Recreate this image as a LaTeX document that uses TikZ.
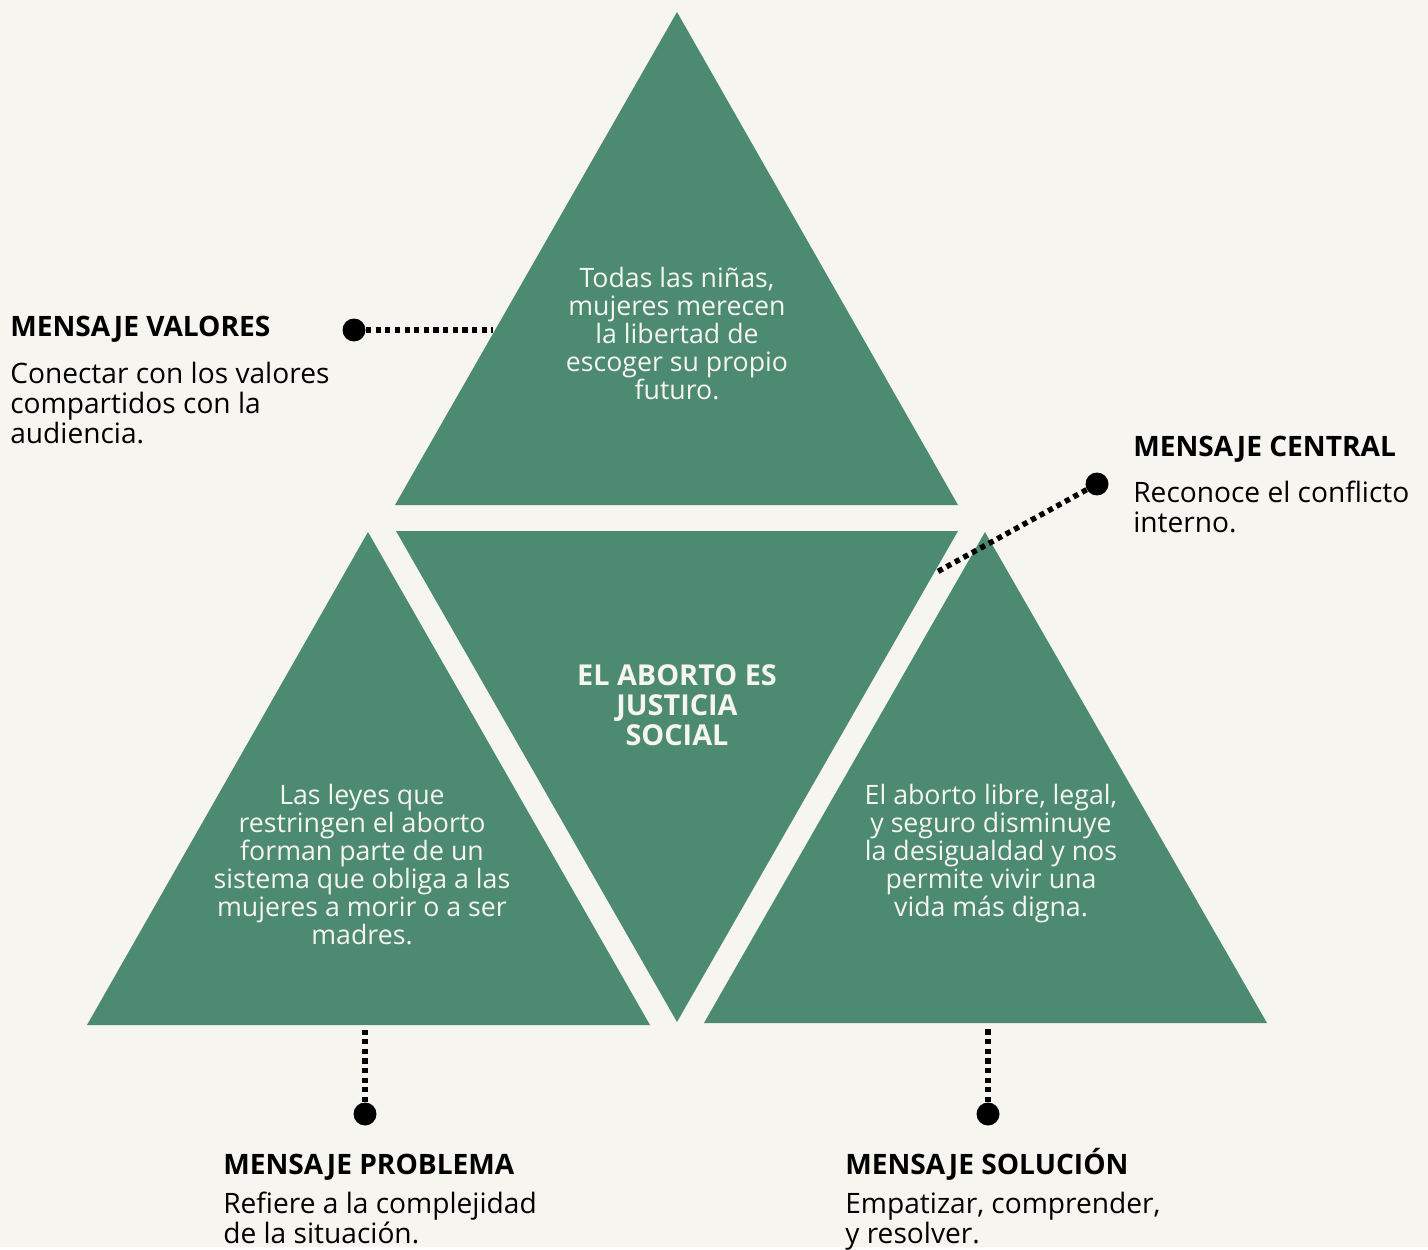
\documentclass[tikz,border=0pt]{standalone}
\usepackage{fontspec}
\setmainfont{Open Sans}
\usepackage{xcolor}
\usepackage{tikz}
\usetikzlibrary{positioning}

\definecolor{paper}{HTML}{F6F5F0}
\definecolor{sage}{HTML}{4C8A72}

\tikzset{
  tri/.style={fill=sage},
  tritext/.style={align=center, anchor=base, inner sep=0, text=paper, font=\fontsize{15.2}{15.9}\selectfont},
  coretext/.style={align=center, anchor=base, inner sep=0, text=paper, font=\fontsize{16.4}{17}\selectfont\bfseries},
  msghead/.style={anchor=base west, inner sep=0, font=\fontsize{16}{17}\selectfont\bfseries},
  msgbody/.style={anchor=base west, align=left, inner sep=0, font=\fontsize{16}{17}\selectfont},
  dotline/.style={line width=3.1pt, dash pattern=on 3pt off 2.5pt},
  pin/.style={circle, fill=black, inner sep=0, minimum size=0.46cm}
}

\begin{document}
\begin{tikzpicture}[x=0.02cm, y=-0.02cm]
    \fill[paper] (0,0) rectangle (1428,1247); % background
    \fill[tri] (677,12) -- (958,505) -- (395,505) -- cycle; % top triangle
    \fill[tri] (396,531) -- (958,531) -- (677,1022) -- cycle; % centre triangle
    \fill[tri] (368,532) -- (650,1025) -- (87,1025) -- cycle; % left triangle
    \fill[tri] (985,532) -- (1267,1023) -- (704,1023) -- cycle; % right triangle
    % texts sit on their last baseline
    \node[tritext] (valores) at (677,399) {Todas las niñas,\\ mujeres merecen\\ la libertad de\\ escoger su propio\\ futuro.};
    \node[coretext] (central) at (677,745) {EL ABORTO ES\\ JUSTICIA\\ SOCIAL};
    \node[tritext] (problema) at (362,944) {Las leyes que\\ restringen el aborto\\ forman parte de un\\ sistema que obliga a las\\ mujeres a morir o a ser\\ madres.};
    \node[tritext] (solucion) at (991,916) {El aborto libre, legal,\\ y seguro disminuye\\ la desigualdad y nos\\ permite vivir una\\ vida más digna.};
    % labels
    \node[msghead] (valhead) at (10,337) {MENSAJE VALORES};
    \node[msgbody] (valbody) at (10,443) {Conectar con los valores\\ compartidos con la\\ audiencia.};
    \node[msghead] (cenhead) at (1133,457) {MENSAJE CENTRAL};
    \node[msgbody] (cenbody) at (1133,532) {Reconoce el conflicto\\ interno.};
    \node[msghead] (probhead) at (223,1174) {MENSAJE PROBLEMA};
    \node[msgbody] (probbody) at (223,1243) {Refiere a la complejidad\\ de la situación.};
    \node[msghead] (solhead) at (845,1174) {MENSAJE SOLUCIÓN};
    \node[msgbody] (solbody) at (845,1243) {Empatizar, comprender,\\ y resolver.};
    % pins
    \node[pin] (valdot) at (354,330) {};
    \node[pin] (cendot) at (1097,484) {};
    \node[pin] (probdot) at (365,1114) {};
    \node[pin] (soldot) at (988,1114) {};
    \coordinate (valend) at (493,330);
    \coordinate (cenend) at (937,572);
    \coordinate (probend) at (365,1030);
    \coordinate (solend) at (988,1027);
    \draw[dotline] (valdot) -- (valend);
    \draw[dotline] (cendot) -- (cenend);
    \draw[dotline] (probdot) -- (probend);
    \draw[dotline] (soldot) -- (solend);
\end{tikzpicture}
\end{document}
